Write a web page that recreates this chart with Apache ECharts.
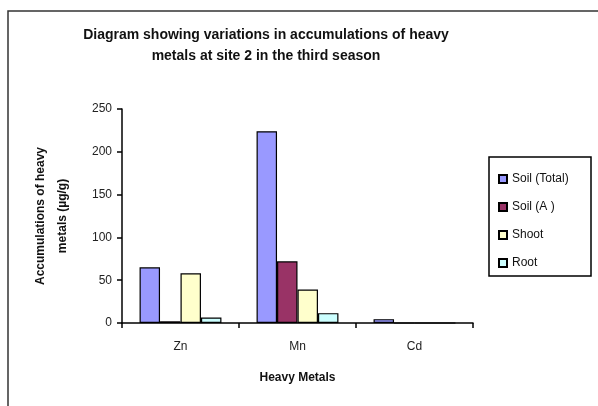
<!DOCTYPE html>
<html>
<head>
<meta charset="utf-8">
<script src="https://cdn.jsdelivr.net/npm/echarts@6/dist/echarts.min.js"></script>
<style>html,body{margin:0;padding:0;background:#fff}#c{width:598px;height:406px}</style>
</head>
<body>
<div id="c"></div>
<script>
const categories = ['Zn', 'Mn', 'Cd'];
const seriesNames = ['Soil (Total)', 'Soil (A )', 'Shoot', 'Root'];
const soilTotal = [65, 224, 4.5];
const soilA = [2, 72, 0];
const shoot = [58, 39, 0];
const root = [6.5, 11.5, 0];
const yTicks = [0, 50, 100, 150, 200, 250];
const colors = ['#9999FF', '#993366', '#FFFFCC', '#CCFFFF'];

const chart = echarts.init(document.getElementById('c'), null, {renderer: 'canvas'});
const font = 'Arial, "Liberation Sans", sans-serif';
const values = [soilTotal, soilA, shoot, root];
chart.setOption({
  animation: false,
  backgroundColor: '#fff',
  title: {
    text: 'Diagram showing variations in accumulations of heavy\nmetals at site 2 in the third season',
    left: 261, top: 20, textAlign: 'center',
    textStyle: {fontFamily: font, fontSize: 14, fontWeight: 'bold', color: '#111', lineHeight: 21}
  },
  grid: {left: 122, right: 125, top: 109, bottom: 83, containLabel: false},
  legend: {
    orient: 'vertical', left: 493, top: 167,
    itemWidth: 8, itemHeight: 8, itemGap: 14,
    icon: 'rect',
    textStyle: {fontFamily: font, fontSize: 12, color: '#111', lineHeight: 14},
    data: seriesNames
  },
  xAxis: {
    type: 'category', data: categories,
    name: 'Heavy Metals', nameLocation: 'middle', nameGap: 49,
    nameTextStyle: {fontFamily: font, fontSize: 12, fontWeight: 'bold', color: '#111'},
    axisLine: {lineStyle: {color: '#000', width: 1.5}},
    axisTick: {show: true, length: 5, lineStyle: {color: '#000', width: 1.5}},
    axisLabel: {fontFamily: font, fontSize: 12, color: '#222', margin: 18}
  },
  yAxis: {
    type: 'value', min: yTicks[0], max: yTicks[yTicks.length - 1], interval: 50,
    name: 'Accumulations of heavy\nmetals (µg/g)', nameLocation: 'middle', nameGap: 48, nameRotate: 90,
    nameTextStyle: {fontFamily: font, fontSize: 12, fontWeight: 'bold', color: '#111', lineHeight: 22},
    axisLine: {show: true, lineStyle: {color: '#000', width: 1.5}},
    axisTick: {show: true, length: 5, lineStyle: {color: '#000', width: 1.5}},
    axisLabel: {fontFamily: font, fontSize: 12, color: '#222', margin: 10},
    splitLine: {show: false}
  },
  series: seriesNames.map((n, i) => ({
    name: n, type: 'bar', data: values[i],
    barGap: '0%', barCategoryGap: '30%',
    itemStyle: {color: colors[i], borderColor: '#000', borderWidth: 1.2}
  })),
  graphic: [
    {type: 'rect', shape: {x: 8, y: 11, width: 700, height: 500}, style: {fill: 'none', stroke: '#333', lineWidth: 1.5}, silent: true, z: -1},
    {type: 'rect', shape: {x: 489, y: 157, width: 102, height: 119}, style: {fill: 'none', stroke: '#000', lineWidth: 1.5}, silent: true}
  ]
});
</script>
</body>
</html>
